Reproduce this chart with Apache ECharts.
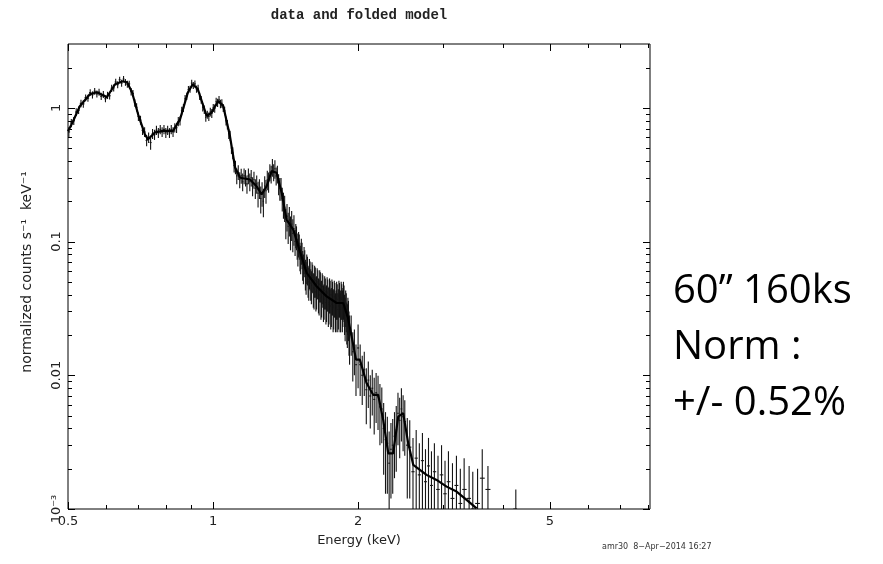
<!DOCTYPE html>
<html><head><meta charset="utf-8">
<script src="https://cdn.jsdelivr.net/npm/echarts@6/dist/echarts.min.js"></script>
<style>html,body{margin:0;padding:0;background:#fff}#c{width:883px;height:564px}</style>
</head><body><div id="c"></div>
<script>
// ---- texts ----
const titleText = 'data and folded model';
const xAxisName = 'Energy (keV)';
const yAxisName = 'normalized counts s\u207B\u00B9  keV\u207B\u00B9';
const footerText = 'amr30  8\u2212Apr\u22122014 16:27';
const noteLines = ['60\u201D 160ks', 'Norm :', '+/- 0.52%'];

// ---- axes ----
const xMin = 0.5, xMax = 8.07, yMin = 0.001, yMax = 3;
const xTickValues = [0.5, 1, 2, 5];
const xTickLabels = ['0.5', '1', '2', '5'];
const xMinorTicks = [0.6, 0.7, 0.8, 0.9, 3, 4, 6, 7, 8];
const yTickValues = [0.001, 0.01, 0.1, 1];
const yTickLabels = ['10\u207B\u00B3', '0.01', '0.1', '1'];

// ---- data (energy keV, normalized counts s^-1 keV^-1, 1-sigma error) ----
const dataE = [0.502,0.508,0.514,0.520,0.526,0.532,0.538,0.544,0.550,0.556,0.562,0.568,0.574,0.580,0.586,0.592,0.598,0.604,0.610,0.616,0.622,0.628,0.634,0.640,0.646,0.652,0.658,0.664,0.670,0.676,0.682,0.688,0.694,
0.700,0.707,0.714,0.721,0.728,0.735,0.742,0.749,0.756,0.763,0.770,0.777,0.784,0.791,0.798,0.805,0.812,0.819,0.826,0.833,0.840,0.847,0.854,0.861,0.868,0.875,0.882,0.889,0.896,0.903,0.910,0.917,0.924,0.931,0.938,0.945,0.952,0.959,0.966,0.973,0.980,0.987,0.994,1.001,1.008,1.015,1.022,1.029,1.036,1.043,1.050,1.057,1.064,1.071,1.078,1.085,1.092,1.099,1.106,1.113,1.120,
1.128,1.136,1.144,1.152,1.160,1.168,1.176,1.184,1.192,1.200,1.208,1.216,1.224,1.232,1.240,1.248,1.256,1.264,1.272,1.280,1.288,1.296,1.304,1.312,1.320,1.328,1.336,1.344,1.352,1.360,1.368,1.376,1.384,1.392,1.400,1.408,1.416,1.424,1.432,1.440,1.448,1.456,1.464,1.472,
1.480,1.485,1.490,1.495,1.500,1.505,1.510,1.515,1.520,1.525,1.530,1.535,1.540,1.545,1.550,1.555,1.560,1.565,1.570,1.575,1.580,1.585,1.590,1.595,1.600,1.605,1.610,1.615,1.620,1.625,1.630,1.635,1.640,1.645,1.650,1.655,1.660,1.665,1.670,1.675,1.680,1.685,1.690,1.695,1.700,1.705,1.710,1.715,1.720,1.725,1.730,1.735,1.740,1.745,1.750,1.755,1.760,1.765,1.770,1.775,1.780,1.785,1.790,1.795,1.800,1.805,1.810,1.815,1.820,1.825,1.830,1.835,1.840,1.845,1.850,1.855,1.860,1.865,1.870,1.875,1.880,1.885,1.890,1.895,1.900,1.905,1.910,1.915,1.920,
1.935,1.950,1.965,1.980,2.000,2.020,2.040,2.060,2.080,2.100,2.120,2.140,2.160,2.180,2.200,2.220,2.240,2.260,2.280,2.300,2.320,2.340,2.360,2.380,2.400,2.420,2.440,2.460,2.480,2.500,2.530,2.560,2.600,2.640,2.680,2.720,2.760,2.800,2.840,2.880,2.930,2.980,3.030,3.080,3.140,3.200,3.260,3.320,3.400,3.460,3.540,3.620,3.720,4.250];
const dataV = [0.66,0.77,0.80,0.93,0.96,1.08,1.07,1.19,1.18,1.30,1.25,1.33,1.27,1.31,1.22,1.26,1.17,1.24,1.23,1.40,1.41,1.56,1.49,1.62,1.53,1.64,1.55,1.50,1.51,1.32,1.28,1.09,1.01,
0.86,0.81,0.68,0.66,0.57,0.60,0.55,0.64,0.63,0.68,0.65,0.69,0.66,0.69,0.65,0.68,0.65,0.69,0.66,0.71,0.71,0.79,0.80,0.95,1.00,1.17,1.22,1.37,1.38,1.53,1.47,1.51,1.38,1.40,1.22,1.15,1.01,0.97,0.85,0.89,0.86,0.93,0.91,1.00,0.99,1.11,1.09,1.15,1.07,1.08,1.00,0.95,0.80,0.75,0.64,0.62,0.50,0.46,0.37,0.36,0.31,
0.33,0.29,0.31,0.28,0.31,0.30,0.27,0.31,0.28,0.30,0.26,0.29,0.25,0.27,0.23,0.25,0.21,0.23,0.20,0.26,0.24,0.29,0.28,0.33,0.32,0.36,0.33,0.35,0.31,0.32,0.27,0.25,0.25,0.21,0.19,0.18,0.14,0.155,0.13,0.145,0.12,0.135,0.115,0.125,
0.100,0.112,0.108,0.094,0.085,0.097,0.093,0.079,0.075,0.086,0.080,0.068,0.064,0.074,0.070,0.058,0.055,0.064,0.062,0.052,0.050,0.059,0.057,0.049,0.047,0.056,0.054,0.045,0.044,0.052,0.051,0.042,0.043,0.050,0.049,0.041,0.040,0.048,0.047,0.038,0.039,0.046,0.044,0.036,0.037,0.043,0.042,0.035,0.036,0.042,0.041,0.034,0.035,0.041,0.040,0.033,0.034,0.040,0.039,0.032,0.033,0.039,0.038,0.031,0.032,0.038,0.037,0.031,0.033,0.039,0.038,0.031,0.032,0.038,0.037,0.032,0.034,0.038,0.036,0.030,0.028,0.033,0.031,0.026,0.025,0.029,0.027,0.022,0.020,
0.021,0.015,0.016,0.012,0.016,0.012,0.010,0.011,0.0078,0.0092,0.0070,0.0080,0.0066,0.0074,0.0069,0.0058,0.0056,0.0040,0.0033,0.0031,0.0022,0.0028,0.0030,0.0035,0.0039,0.0052,0.0046,0.0056,0.0049,0.0045,0.0030,0.0029,0.0019,0.0024,0.0018,0.0023,0.0016,0.0021,0.0015,0.0019,0.0014,0.0018,0.0013,0.0016,0.0012,0.0015,0.0011,0.0014,0.0012,0.0010,0.0011,0.0017,0.0014,0.0010];
const dataErr = [0.055,0.055,0.055,0.062,0.062,0.07,0.07,0.07,0.07,0.077,0.077,0.077,0.077,0.077,0.077,0.077,0.07,0.077,0.077,0.085,0.085,0.09,0.09,0.09,0.09,0.09,0.09,0.09,0.085,0.085,0.077,0.07,0.07,
0.062,0.062,0.055,0.055,0.055,0.055,0.065,0.055,0.055,0.055,0.055,0.055,0.055,0.055,0.055,0.055,0.055,0.055,0.055,0.055,0.062,0.062,0.062,0.07,0.07,0.077,0.077,0.085,0.085,0.09,0.09,0.09,0.085,0.085,0.077,0.077,0.07,0.07,0.062,0.062,0.062,0.07,0.07,0.07,0.07,0.077,0.077,0.077,0.077,0.077,0.07,0.07,0.062,0.062,0.055,0.055,0.048,0.048,0.042,0.042,0.042,
0.042,0.04,0.04,0.042,0.042,0.042,0.042,0.042,0.042,0.042,0.042,0.042,0.042,0.042,0.05,0.042,0.048,0.048,0.048,0.048,0.048,0.048,0.048,0.048,0.048,0.055,0.048,0.055,0.048,0.048,0.048,0.048,0.048,0.042,0.042,0.04,0.036,0.036,0.034,0.036,0.034,0.034,0.032,0.032,
0.022,0.023,0.022,0.021,0.020,0.021,0.020,0.019,0.018,0.019,0.018,0.017,0.016,0.017,0.016,0.015,0.015,0.016,0.015,0.014,0.014,0.015,0.014,0.013,0.013,0.014,0.013,0.013,0.013,0.014,0.013,0.012,0.012,0.013,0.012,0.012,0.012,0.013,0.012,0.012,0.012,0.012,0.012,0.011,0.011,0.012,0.011,0.011,0.011,0.012,0.011,0.011,0.011,0.012,0.011,0.011,0.011,0.012,0.011,0.011,0.011,0.012,0.011,0.010,0.011,0.012,0.011,0.010,0.011,0.012,0.011,0.010,0.011,0.012,0.011,0.011,0.011,0.012,0.011,0.010,0.010,0.010,0.010,0.009,0.009,0.009,0.009,0.008,0.008,
0.007,0.006,0.006,0.005,0.008,0.005,0.004,0.004,0.0035,0.0035,0.003,0.003,0.003,0.003,0.003,0.0028,0.0025,0.0022,0.002,0.0018,0.0016,0.0016,0.0017,0.0018,0.002,0.0022,0.0022,0.0024,0.0022,0.002,0.0018,0.0017,0.0015,0.0015,0.0013,0.0014,0.0012,0.0013,0.0012,0.0012,0.0011,0.0012,0.0010,0.0011,0.0010,0.0010,0.0009,0.0010,0.0009,0.0009,0.0009,0.0011,0.0007,0.0004];

// ---- folded model ----
const modelE = [0.500,0.510,0.529,0.555,0.574,0.602,0.626,0.650,0.663,0.679,0.699,0.722,0.733,0.758,0.787,0.826,0.854,0.887,0.908,0.930,0.970,0.993,1.025,1.050,1.084,1.111,1.138,1.193,1.231,1.261,1.292,1.323,1.355,1.388,1.421,1.467,1.515,1.564,1.640,1.721,1.805,1.863,1.905,1.954,1.980,2.017,2.083,2.149,2.201,2.255,2.310,2.365,2.423,2.481,2.541,2.603,2.774,2.910,3.053,3.202,3.359,3.524];
const modelV = [0.667,0.766,1.026,1.262,1.306,1.199,1.50,1.58,1.552,1.306,0.894,0.633,0.581,0.655,0.673,0.673,0.820,1.306,1.50,1.376,0.868,0.920,1.124,1.031,0.615,0.358,0.300,0.291,0.259,0.225,0.259,0.336,0.327,0.232,0.146,0.123,0.0841,0.0583,0.0463,0.0389,0.0347,0.0347,0.0270,0.0169,0.0131,0.0131,0.00874,0.00714,0.00714,0.00464,0.00261,0.00261,0.00491,0.00521,0.00311,0.00214,0.00180,0.00165,0.00147,0.00135,0.00117,0.00101];

// ---- build ----
const errData = dataE.map((e, i) => {
  let eL = i > 0 ? Math.sqrt(dataE[i - 1] * e) : e * 0.994;
  let eR = i < dataE.length - 1 ? Math.sqrt(dataE[i + 1] * e) : e * 1.006;
  eL = Math.max(eL, e * 0.988); eR = Math.min(eR, e * 1.012);
  return [e, dataV[i], dataErr[i], eL, eR];
});
const modelData = modelE.map((e, i) => [e, modelV[i]]);

const yMinorTicks = [];
[0.001, 0.01, 0.1, 1].forEach(d => { for (let k = 2; k <= 9; k++) { const v = +(k * d).toPrecision(3); if (v < yMax) yMinorTicks.push(v); } });

const chart = echarts.init(document.getElementById('c'), null, { renderer: 'canvas' });
const labelFont = '"DejaVu Sans", "Liberation Sans", sans-serif';

function renderErr(params, api) {
  const e = api.value(0), v = api.value(1), er = api.value(2), eL = api.value(3), eR = api.value(4);
  const lo = Math.max(v - er, yMin), hi = Math.min(v + er, yMax);
  const c = api.coord([e, v]), pl = api.coord([e, lo]), ph = api.coord([e, hi]);
  const cl = api.coord([Math.max(eL, xMin), v]), cr = api.coord([eR, v]);
  const st = { stroke: '#141414', lineWidth: 1.1 };
  return { type: 'group', children: [
    { type: 'line', shape: { x1: c[0], y1: pl[1], x2: c[0], y2: ph[1] }, style: st },
    { type: 'line', shape: { x1: cl[0], y1: c[1], x2: cr[0], y2: c[1] }, style: st }
  ]};
}

function renderAxes(params, api) {
  const cs = params.coordSys;
  const top = cs.y, bottom = cs.y + cs.height, left = cs.x, right = cs.x + cs.width;
  const ch = [];
  const st = { stroke: '#000', lineWidth: 1 };
  const xt = (v, len) => {
    const x = Math.round(api.coord([v, 1])[0]) + 0.5;
    ch.push({ type: 'line', shape: { x1: x, y1: bottom, x2: x, y2: bottom - len }, style: st });
    ch.push({ type: 'line', shape: { x1: x, y1: top, x2: x, y2: top + len }, style: st });
  };
  const yt = (v, len) => {
    const y = Math.round(api.coord([1, v])[1]) + 0.5;
    ch.push({ type: 'line', shape: { x1: left, y1: y, x2: left + len, y2: y }, style: st });
    ch.push({ type: 'line', shape: { x1: right, y1: y, x2: right - len, y2: y }, style: st });
  };
  xTickValues.forEach(v => xt(v, 7));
  xMinorTicks.forEach(v => xt(v, 4));
  yTickValues.forEach(v => yt(v, 7));
  yMinorTicks.forEach(v => yt(v, 4));
  xTickValues.forEach((v, i) => {
    const x = api.coord([v, 1])[0];
    ch.push({ type: 'text', x: x, y: bottom + 13, style: { text: xTickLabels[i], font: '13px ' + labelFont, fill: '#222', align: 'center', verticalAlign: 'middle' } });
  });
  yTickValues.forEach((v, i) => {
    const y = api.coord([1, v])[1];
    ch.push({ type: 'text', x: left - 11, y: y, rotation: Math.PI / 2, style: { text: yTickLabels[i], font: '13px ' + labelFont, fill: '#222', align: 'center', verticalAlign: 'middle' } });
  });
  return { type: 'group', children: ch };
}

chart.setOption({
  animation: false,
  backgroundColor: '#fff',
  grid: { left: 68, right: 233, top: 44, bottom: 55, show: true, borderColor: '#000', borderWidth: 1, backgroundColor: 'transparent' },
  xAxis: { type: 'log', logBase: 10, min: xMin, max: xMax, axisLine: { show: false }, axisTick: { show: false }, axisLabel: { show: false }, splitLine: { show: false } },
  yAxis: { type: 'log', logBase: 10, min: yMin, max: yMax, axisLine: { show: false }, axisTick: { show: false }, axisLabel: { show: false }, splitLine: { show: false } },
  graphic: [
    { type: 'text', x: 359, y: 15, style: { text: titleText, font: 'bold 14px "Liberation Mono", monospace', fill: '#222', align: 'center', verticalAlign: 'middle' } },
    { type: 'text', x: 359, y: 541, style: { text: xAxisName, font: '13px ' + labelFont, fill: '#222', align: 'center', verticalAlign: 'middle' } },
    { type: 'text', x: 27, y: 272, rotation: Math.PI / 2, style: { text: yAxisName, font: '14px ' + labelFont, fill: '#222', align: 'center', verticalAlign: 'middle' } },
    { type: 'text', x: 602, y: 547, style: { text: footerText, font: '8px ' + labelFont, fill: '#333', align: 'left', verticalAlign: 'middle' } },
    { type: 'text', x: 673, y: 292, style: { text: noteLines[0], font: '40px "Open Sans", sans-serif', fill: '#000', align: 'left', verticalAlign: 'middle' } },
    { type: 'text', x: 673, y: 348, style: { text: noteLines[1], font: '40px "Open Sans", sans-serif', fill: '#000', align: 'left', verticalAlign: 'middle' } },
    { type: 'text', x: 673, y: 404, style: { text: noteLines[2], font: '40px "Open Sans", sans-serif', fill: '#000', align: 'left', verticalAlign: 'middle' } }
  ],
  series: [
    { type: 'custom', name: 'data', renderItem: renderErr, data: errData, clip: true, z: 2 },
    { type: 'line', name: 'model', data: modelData, showSymbol: false, symbol: 'none', lineStyle: { color: '#000', width: 2.2 }, z: 3 },
    { type: 'custom', name: 'axes', renderItem: renderAxes, data: [[1, 1]], z: 4, silent: true }
  ]
});
</script>
</body></html>
